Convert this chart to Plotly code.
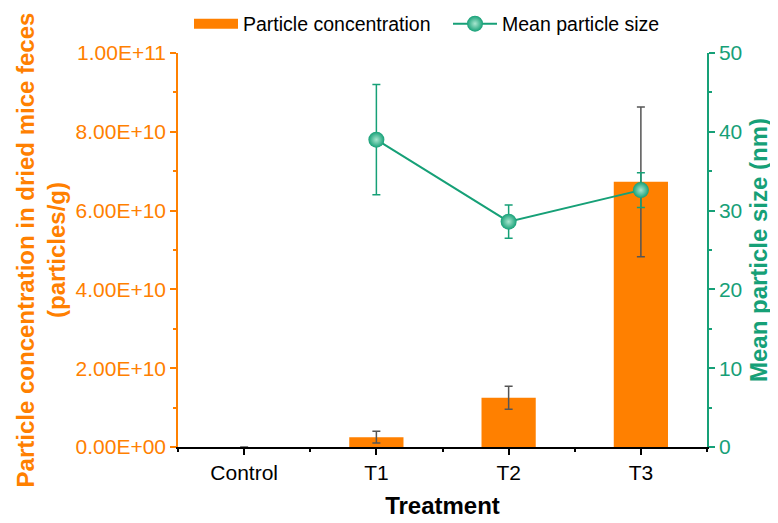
import plotly.graph_objects as go

categories = ["Control", "T1", "T2", "T3"]
conc = [0, 2.5e9, 1.25e10, 6.73e10]
conc_err = [0, 1.5e9, 2.9e9, 1.9e10]
size_nm = [None, 39.0, 28.6, 32.6]
size_err = [0, 7.0, 2.1, 2.2]

x_pos = list(range(len(categories)))

ORANGE = "#FF8000"
GREEN = "#16A077"
FONT = "Arial, Liberation Sans, sans-serif"

fig = go.Figure()
fig.add_trace(go.Bar(
    x=x_pos, y=conc, width=0.41, name="Particle concentration", showlegend=False,
    marker=dict(color=ORANGE, line=dict(width=0)),
    error_y=dict(type="data", array=conc_err, color="#555555", thickness=1.5, width=4),
    yaxis="y",
))
# legend-only entry giving the bar a wide rectangular swatch
fig.add_trace(go.Scatter(
    x=[None], y=[None], mode="lines", name="Particle concentration",
    line=dict(color=ORANGE, width=24), yaxis="y", hoverinfo="skip",
))
fig.add_trace(go.Scatter(
    x=x_pos, y=size_nm, name="Mean particle size", mode="lines+markers",
    line=dict(color=GREEN, width=2),
    marker=dict(color=GREEN, size=16, gradient=dict(type="radial", color="#a8e6cf")),
    error_y=dict(type="data", array=size_err, color=GREEN, thickness=1.5, width=4),
    yaxis="y2",
))

# page body has an 8px default margin, so the figure is sized/offset to compensate
fig.update_layout(
    width=770, height=515,
    margin=dict(l=170, r=71, t=45, b=76, autoexpand=False),
    plot_bgcolor="white", paper_bgcolor="white",
    font=dict(family=FONT, size=21),
    showlegend=True,
    legend=dict(orientation="h", xref="paper", x=0.0208, xanchor="left",
                yref="container", y=0.969, yanchor="middle",
                font=dict(size=19.5, color="black"), bgcolor="rgba(0,0,0,0)",
                itemwidth=44, entrywidth=200, traceorder="normal"),
    xaxis=dict(
        range=[-0.5, 3.5], tickmode="array", tickvals=x_pos, ticktext=categories,
        showline=True, linecolor="black", linewidth=1.5,
        ticks="outside", ticklen=6, tickwidth=1.5, tickcolor="black",
        minor=dict(ticks="outside", ticklen=3, tickwidth=1.5, tickcolor="black", dtick=0.5, tick0=0),
        showgrid=False, zeroline=False, automargin=False,
        tickfont=dict(size=21, color="black"),
        title=dict(text="<b>Treatment</b>", font=dict(size=24, color="black"), standoff=14),
    ),
    yaxis=dict(
        range=[0, 1e11], tickmode="array",
        tickvals=[0, 2e10, 4e10, 6e10, 8e10, 1e11],
        ticktext=["0.00E+00", "2.00E+10", "4.00E+10", "6.00E+10", "8.00E+10", "1.00E+11"],
        showline=True, linecolor=ORANGE, linewidth=1.5,
        ticks="outside", ticklen=6, tickwidth=1.5, tickcolor=ORANGE,
        minor=dict(ticks="outside", ticklen=3, tickwidth=1.5, tickcolor=ORANGE, dtick=1e10),
        showgrid=False, zeroline=False, automargin=False,
        tickfont=dict(size=21, color=ORANGE),
        title=dict(text="<b>Particle concentration in dried mice feces<br>(particles/g)</b>",
                   font=dict(size=24, color=ORANGE), standoff=3),
    ),
    yaxis2=dict(
        range=[0, 50], overlaying="y", side="right", tickvals=[0, 10, 20, 30, 40, 50],
        showline=True, linecolor=GREEN, linewidth=1.5,
        ticks="outside", ticklen=6, tickwidth=1.5, tickcolor=GREEN,
        minor=dict(ticks="outside", ticklen=3, tickwidth=1.5, tickcolor=GREEN, dtick=5),
        showgrid=False, zeroline=False, automargin=False,
        tickfont=dict(size=21, color=GREEN),
        title=dict(text="<b>Mean particle size (nm)</b>", font=dict(size=24, color=GREEN), standoff=9),
    ),
)

fig.write_html("out.html")
